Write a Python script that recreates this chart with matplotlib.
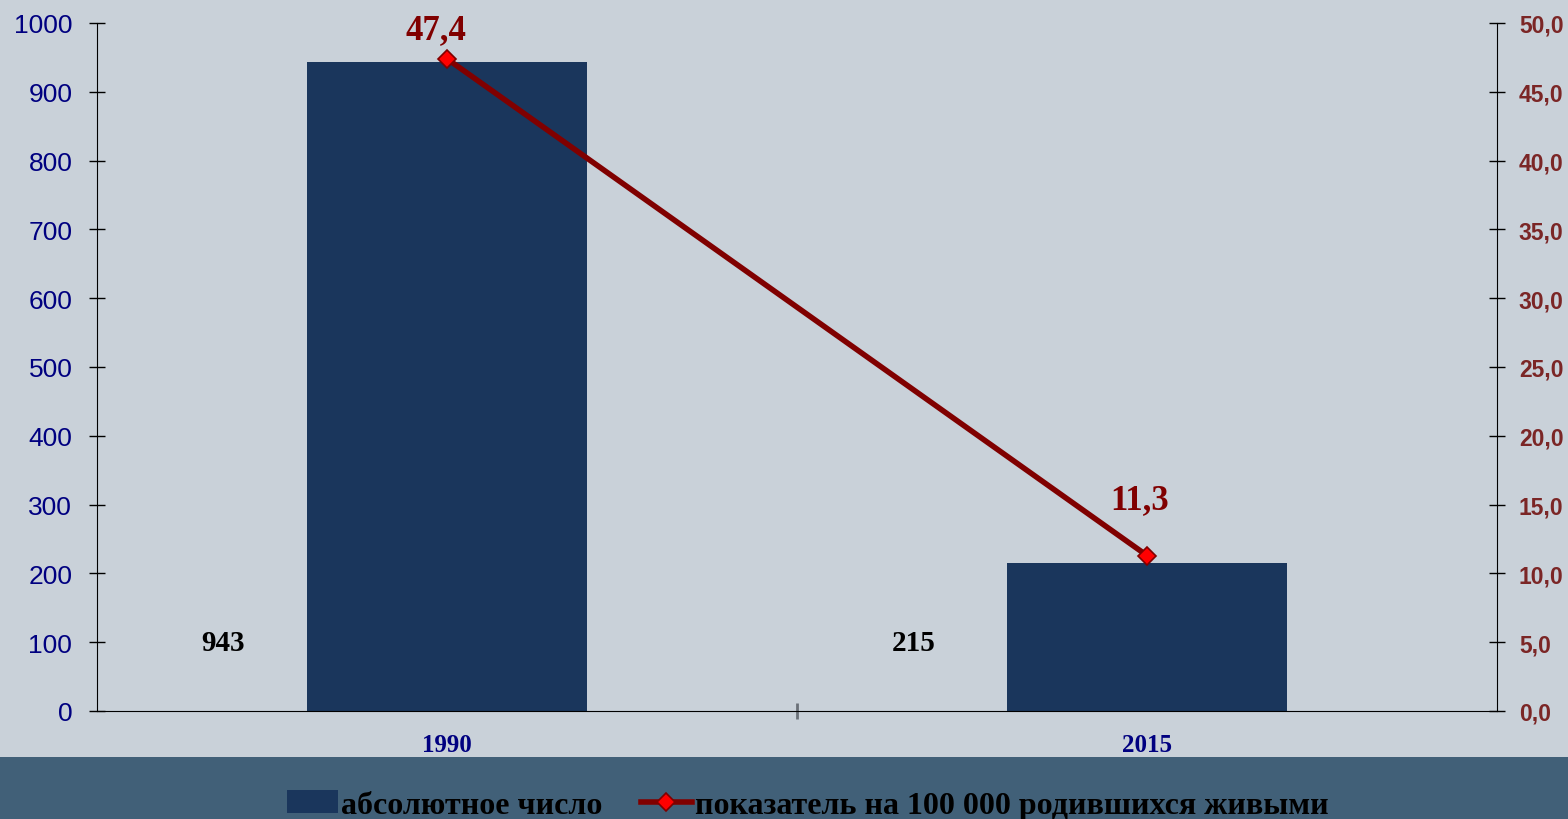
import matplotlib.pyplot as plt
from matplotlib.patches import Rectangle

years = ['1990', '2015']
absolute = [943, 215]
rate = [47.4, 11.3]
left_ticks = [0, 100, 200, 300, 400, 500, 600, 700, 800, 900, 1000]
right_ticks = [0, 5, 10, 15, 20, 25, 30, 35, 40, 45, 50]

bg = '#C9D1D9'
band = '#416078'
bar_col = '#1A365C'
line_col = '#800000'
navy = '#000080'
serif = ['Liberation Serif', 'DejaVu Serif']
sans = ['Liberation Sans', 'DejaVu Sans']

fig = plt.figure(figsize=(15.68, 8.2), dpi=100, facecolor=bg)
fig.patches.append(Rectangle((0, 0), 1, 62 / 820, transform=fig.transFigure,
                             facecolor=band, edgecolor='none', zorder=0))

ax = fig.add_axes([97 / 1568, 108 / 820, 1400 / 1568, 688 / 820])
ax.patch.set_visible(False)
x = list(range(len(years)))

bars = ax.bar(x, absolute, width=0.4, color=bar_col, label='абсолютное число', zorder=2)
ax.set_xlim(-0.5, 1.5)
ax.set_ylim(0, 1000)
ax.set_yticks(left_ticks)
ax.tick_params(axis='y', direction='inout', length=11.5, width=1, colors='black',
               labelcolor=navy, labelsize=19, pad=12)
for lab in ax.get_yticklabels():
    lab.set_family(sans)

ax.set_xticks(x)
ax.set_xticklabels(years, fontsize=18, fontweight='bold', color=navy, family=serif)
ax.tick_params(axis='x', length=0, pad=16)
ax.set_xticks([0.5], minor=True)
ax.tick_params(axis='x', which='minor', direction='inout', length=11, width=2, color='#6A7078')

ax.spines['top'].set_visible(False)
ax.spines['right'].set_visible(False)
ax.spines['left'].set_color('black')
ax.spines['bottom'].set_color('black')

# подписи абсолютных чисел стоят слева от столбцов
label_shift = [-0.32, -0.333]
for i, v in enumerate(absolute):
    ax.text(i + label_shift[i], 100, str(v), ha='center', va='center', fontsize=21,
            fontweight='bold', family=serif, color='black')

ax2 = ax.twinx()
ax2.patch.set_visible(False)
line, = ax2.plot(x, rate, color=line_col, lw=4, marker='D', markersize=9,
                 markerfacecolor='#FF0000', markeredgecolor=line_col, markeredgewidth=1.2,
                 label='показатель на 100 000 родившихся живыми', zorder=3)
ax2.set_ylim(0, 50)
ax2.set_yticks(right_ticks)
ax2.set_yticklabels([f'{t:.1f}'.replace('.', ',') for t in right_ticks])
ax2.tick_params(axis='y', direction='inout', length=11.5, width=1, colors='black',
                labelcolor='#7B2626', labelsize=16.5, pad=10)
for lab in ax2.get_yticklabels():
    lab.set_family(sans)
    lab.set_fontweight('bold')
for s in ['top', 'left', 'bottom']:
    ax2.spines[s].set_visible(False)
ax2.spines['right'].set_color('black')

offsets = [(-8, 21), (-5, 40)]
for i, v in enumerate(rate):
    ax2.annotate(f'{v:.1f}'.replace('.', ','), (i, v), xytext=offsets[i],
                 textcoords='offset points', ha='center', va='center',
                 fontsize=25, fontweight='bold', family=serif, color=line_col)

fig.legend(handles=[bars, line], loc='center', bbox_to_anchor=(0.515, 14 / 820),
           ncol=2, frameon=False, handlelength=1.6, handletextpad=0.1,
           columnspacing=1.2,
           prop={'family': serif, 'weight': 'bold', 'size': 23})

fig.savefig('out.png', dpi=100, facecolor=bg)
